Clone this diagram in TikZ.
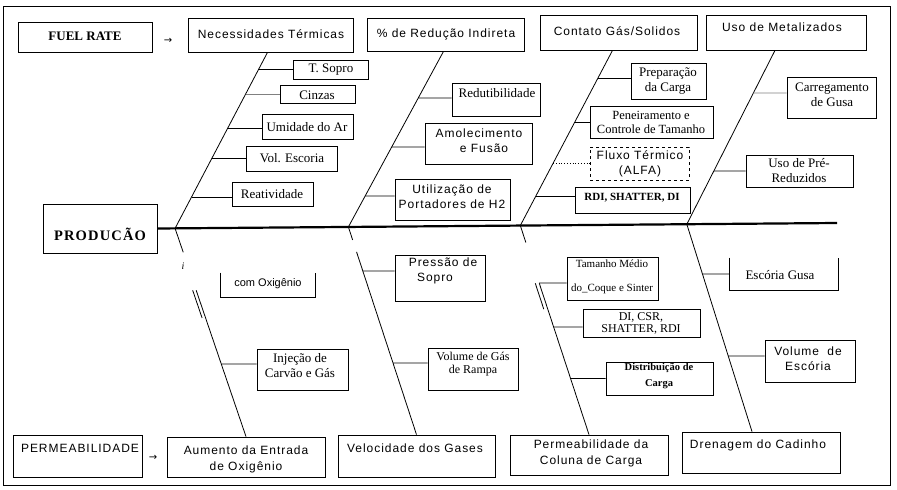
\documentclass[tikz,border=0pt]{standalone}
\usepackage{fontspec}
\setmainfont{Liberation Serif}
\newfontfamily\wsans[LetterSpace=8]{Liberation Sans}
\newfontfamily\psans{Liberation Sans}
\newfontfamily\spserif[LetterSpace=8]{Liberation Serif}
\newfontfamily\symfont{DejaVu Sans}
\usetikzlibrary{calc}

% box node plus its caption node: [style]{name}{x1}{y1}{x2}{y2}{text x}{text y}{text}
\newcommand\cbx[9][]{%
  \node[box,#1,minimum width={#5-#3},minimum height={#6-#4}] (#2) at ({(#3+#5)/2},{(#4+#6)/2}) {};
  \node[txt,#1] (#2-t) at (#7,#8) {#9};}

% horizontal rib from a bone (#3--#4) to the west side of box #5, raised by #2
\newcommand\rib[5][]{%
  \coordinate (ribR) at ([yshift=#2pt]#5.west);
  \coordinate (ribL) at ([xshift=-30pt]ribR);
  \draw[rib,#1] (intersection of #3--#4 and ribR--ribL) -- (ribR);}

\begin{document}
\begin{tikzpicture}[x=1pt,y=-1pt,
  box/.style={draw,line width=0.8pt,inner sep=0pt},
  txt/.style={inner sep=0pt,align=center,font=\fontsize{13}{15}\selectfont},
  ser/.style={font=\fontsize{13}{15}\selectfont},
  sans/.style={font=\wsans\fontsize{12}{15}\selectfont},
  head/.style={font=\wsans\fontsize{12}{16}\selectfont},
  bone/.style={line width=0.8pt},
  rib/.style={line width=0.8pt},
  spine/.style={line width=2.2pt},
  frame/.style={line width=1pt}]

\useasboundingbox (0,0) rectangle (897,490);
\draw[frame] (3,6) rectangle (890,485);

% effect boxes on top
\cbx[font=\bfseries\fontsize{13}{15}\selectfont]{fuel}{18}{22}{152}{52}{85}{36}{FUEL RATE}
\cbx[head]{nec}{188}{18}{353}{52}{271}{34}{Necessidades Térmicas}
\cbx[head]{red}{367}{18}{524}{51}{446}{34}{\% de Redução Indireta}
\cbx[head]{con}{540}{15}{697}{50}{617}{31}{Contato Gás/Solidos}
\cbx[head]{uso}{706}{15}{866}{50}{782}{27}{Uso de Metalizados}
\node[font=\symfont\fontsize{10}{10}\selectfont] (arr1) at (168,41) {→};

% head of the fish
\cbx[font=\spserif\bfseries\fontsize{14.5}{16}\selectfont]{prod}{43}{204}{157}{253}{100}{234}{PRODUCÃO}

% cause boxes at the bottom
\cbx[head]{perm}{13}{435}{142}{477}{80}{448}{PERMEABILIDADE}
\cbx[head]{aume}{167}{437}{325}{477}{246}{459}{Aumento da Entrada\\de Oxigênio}
\cbx[head]{velo}{338}{435}{495}{477}{415}{448}{Velocidade dos Gases}
\cbx[head]{perc}{510}{435}{668}{475}{591}{453}{Permeabilidade da\\Coluna de Carga}
\cbx[head]{dren}{682}{432}{840}{473}{758}{445}{Drenagem do Cadinho}
\node[font=\symfont\fontsize{10}{10}\selectfont] (arr2) at (153,458) {→};

% spine
\coordinate (spE) at (837,223);
\draw[spine] (prod.east) -- (spE);
\coordinate (s1) at ($(prod.east)!0.026!(spE)$);
\coordinate (s2) at ($(prod.east)!0.281!(spE)$);
\coordinate (s3) at ($(prod.east)!0.534!(spE)$);
\coordinate (s4) at ($(prod.east)!0.779!(spE)$);

% upper bones
\coordinate (t1) at ([xshift=-3pt]nec.south);
\coordinate (t2) at ([xshift=-2pt]red.south);
\coordinate (t3) at ([xshift=-6pt]con.south);
\coordinate (t4) at ([xshift=-11pt]uso.south);
\draw[bone] (t1) -- (s1);
\draw[bone] (t2) -- (s2);
\draw[bone] (t3) -- (s3);
\draw[bone] (t4) -- (s4);

% lower bones
\coordinate (b1) at (aume.north);
\coordinate (b2) at (velo.north);
\coordinate (b3) at (perc.north);
\coordinate (b4) at ([xshift=-9pt]dren.north);
\draw[bone] (s1) -- ($(s1)!0.115!(b1)$);
\draw[bone] ($(s1)!0.297!(b1)$) -- (b1);
\draw[bone] ($(s1)!0.297!(b1)+(-3.5,0)$) -- ($(s1)!0.43!(b1)+(-3.5,0)$);
\node[font=\itshape\fontsize{10}{10}\selectfont] (imark) at (183,266) {i};
\draw[bone] (s2) -- ($(s2)!0.0625!(b2)$);
\draw[bone] ($(s2)!0.12!(b2)$) -- (b2);
\draw[bone] (s3) -- ($(s3)!0.081!(b3)$);
\draw[bone] ($(s3)!0.276!(b3)$) -- (b3);
\draw[bone] ($(s3)!0.276!(b3)+(-4,0)$) -- ($(s3)!0.40!(b3)+(-4,0)$);
\draw[bone] (s4) -- (b4);

% causes on the upper bones
\cbx[ser]{tsop}{293}{60}{368}{79}{331}{70}{T. Sopro}
\cbx[ser]{cinz}{280}{85}{355}{103}{317}{95}{Cinzas}
\cbx[ser]{umid}{262}{114}{353}{139}{307}{127}{Umidade do Ar}
\cbx[ser]{vesc}{246}{146}{337}{171}{292}{158}{Vol. Escoria}
\cbx[ser]{reat}{232}{182}{313}{206}{272}{194}{Reatividade}
\cbx[ser]{redu}{452}{83}{540}{116}{497}{93}{Redutibilidade}
\cbx[sans]{amol}{425}{123}{532}{164}{479}{141}{Amolecimento\\\hspace*{10pt}e Fusão}
\cbx[sans]{util}{395}{179}{510}{220}{452}{197}{Utilização de\\Portadores de H2}
\cbx[ser]{prep}{631}{63}{706}{99}{668}{81}{Preparação\\da Carga}
\cbx[font=\fontsize{12.5}{14}\selectfont]{pene}{590}{106}{713}{138}{651}{122}{Peneiramento e\\Controle de Tamanho}
\cbx[sans,dashed]{flux}{590}{147}{689}{180}{640}{164}{Fluxo Térmico\\(ALFA)}
\cbx[font=\bfseries\fontsize{11}{13}\selectfont]{rdi}{575}{187}{690}{213}{632}{198}{RDI, SHATTER, DI}
\cbx[ser]{carr}{787}{77}{876}{118}{832}{95}{Carregamento\\de Gusa}
\cbx[ser]{upre}{746}{155}{853}{187}{799}{171}{Uso de Pré-\\Reduzidos}

% causes on the lower bones
\cbx[font=\psans\fontsize{11}{13}\selectfont,draw=none]{oxig}{221}{273}{315}{297}{268}{284}{com Oxigênio}
\draw[line width=0.8pt] (oxig.north west) -- (oxig.south west) -- (oxig.south east) -- (oxig.north east);
\cbx[ser]{inje}{257}{349}{348}{390}{300}{366}{Injeção de\\Carvão e Gás}
\cbx[sans]{pres}{395}{255}{485}{301}{443}{271}{Pressão de\\Sopro\hspace*{16pt}}
\cbx[font=\fontsize{12}{13}\selectfont]{volg}{428}{348}{518}{390}{473}{364}{Volume de Gás\\de Rampa}
\cbx[font=\fontsize{11}{13}\selectfont]{tama}{567}{257}{658}{300}{612}{277}{Tamanho Médio\\[11pt]do\_Coque e Sinter}
\cbx[font=\fontsize{12}{12}\selectfont]{dics}{583}{309}{700}{337}{641}{323}{DI, CSR,\\SHATTER, RDI}
\cbx[font=\bfseries\fontsize{10.5}{16}\selectfont]{dist}{606}{362}{713}{395}{659}{376}{Distribuição de\\Carga}
\cbx[ser,draw=none]{escg}{730}{258}{838}{290}{780}{275}{Escória Gusa}
\draw[line width=0.8pt] (escg.north west) -- (escg.south west) -- (escg.south east) -- (escg.north east);
\cbx[sans]{vesco}{765}{340}{855}{382}{808}{359}{Volume\hspace{4pt} de\\Escória}

% ribs
\rib{0}{t1}{s1}{tsop}
\rib[gray]{0}{t1}{s1}{cinz}
\rib{-1.5}{t1}{s1}{umid}
\rib{0}{t1}{s1}{vesc}
\rib{-3}{t1}{s1}{reat}
\rib{1.5}{t2}{s2}{redu}
\rib{-3.5}{t2}{s2}{amol}
\rib{3.5}{t2}{s2}{util}
\rib{3}{t3}{s3}{prep}
\rib{0}{t3}{s3}{pene}
\rib[dotted]{0}{t3}{s3}{flux}
\rib{4}{t3}{s3}{rdi}
\rib[gray]{4.5}{t4}{s4}{carr}
\rib{0}{t4}{s4}{upre}
\rib{5.5}{s1}{b1}{inje}
\rib{7}{s2}{b2}{pres}
\rib{6}{s2}{b2}{volg}
\rib{-4.5}{s3}{b3}{tama}
\rib{-4}{s3}{b3}{dics}
\rib{0}{s3}{b3}{dist}
\rib{0}{s4}{b4}{escg}
\rib{5}{s4}{b4}{vesco}

\end{tikzpicture}
\end{document}
